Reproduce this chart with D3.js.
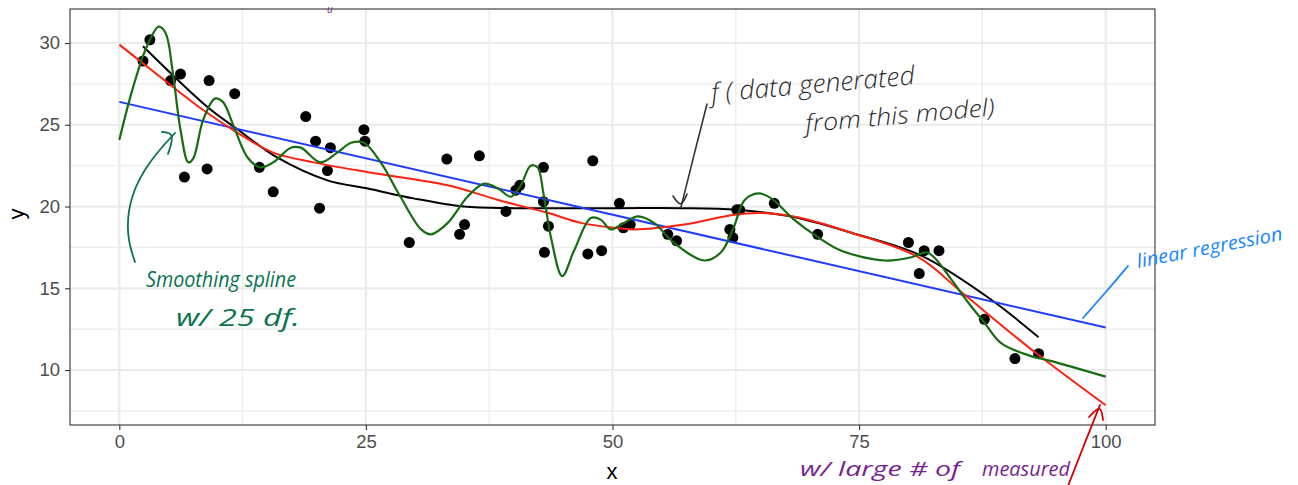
<!DOCTYPE html>
<html>
<head>
<meta charset="utf-8">
<script src="https://cdn.jsdelivr.net/npm/d3@7"></script>
<style>
  body { margin: 0; background: #fff; }
  svg { display: block; }
  .tick text { font-family: "Liberation Sans", Arial, sans-serif; }
</style>
</head>
<body>
<script>
// data
const pointsX = [2.4, 3.1, 5.2, 6.2, 6.6, 8.9, 9.1, 11.7, 14.2, 15.6, 18.9, 19.9, 20.3, 21.1, 21.4,
  24.8, 24.9, 29.4, 33.2, 34.5, 35.0, 36.5, 39.2, 40.2, 40.6, 43.0, 43.0, 43.5, 43.1, 47.5, 48.0,
  48.9, 50.7, 51.1, 51.8, 55.6, 56.5, 61.9, 62.2, 62.6, 62.9, 66.4, 70.8, 80.0, 81.1, 81.6, 83.1,
  87.7, 90.8, 93.2];
const pointsY = [28.9, 30.2, 27.7, 28.1, 21.8, 22.3, 27.7, 26.9, 22.4, 20.9, 25.5, 24.0, 19.9, 22.2, 23.6,
  24.7, 24.0, 17.8, 22.9, 18.3, 18.9, 23.1, 19.7, 21.0, 21.3, 22.4, 20.3, 18.8, 17.2, 17.1, 22.8,
  17.3, 20.2, 18.7, 18.9, 18.3, 17.9, 18.6, 18.1, 19.8, 19.8, 20.2, 18.3, 17.8, 15.9, 17.3, 17.3,
  13.1, 10.7, 11.0];

// true f (black)
const trueX = [2.4, 8.9, 11.8, 16.0, 21.1, 25.2, 29.8, 34.9, 40.0, 50.7, 57.0, 62.6, 68.0, 74.2, 81.3, 88.4, 93.2];
const trueY = [29.8, 26.1, 24.8, 23.0, 21.6, 21.1, 20.5, 20.0, 19.9, 19.9, 19.9, 19.8, 19.4, 18.4, 17.0, 14.3, 12.0];

// red smoother
const redX = [0, 4.0, 8.5, 12.0, 15.6, 19.7, 25.2, 33.3, 38.4, 43.5, 46.8, 50.2, 52.2, 57.3, 62.3, 65.1, 69.1, 74.2, 81.0, 85.7, 92.8, 100];
const redY = [29.9, 28.0, 25.9, 24.5, 23.3, 22.7, 22.1, 21.3, 20.4, 19.6, 19.0, 18.7, 18.6, 18.9, 19.5, 19.6, 19.3, 18.4, 16.9, 14.6, 11.1, 7.85];

// linear regression (blue)
const blueX = [0, 100];
const blueY = [26.4, 12.6];

// smoothing spline, 25 df (green)
const greenX = [0, 1.4, 2.8, 4.0, 4.7, 5.4, 6.2, 7.0, 7.5, 8.5, 9.7, 10.5, 11.6, 13.0, 14.3, 15.6, 17.4, 18.4,
  20.4, 22.1, 23.5, 24.8, 26.5, 28.5, 30.6, 31.6, 33.3, 35.3, 37.0, 38.4, 39.7, 40.7, 41.7, 42.4, 43.0,
  43.8, 44.9, 46.1, 47.8, 48.8, 49.8, 50.9, 52.6, 54.2, 56.2, 59.3, 61.0, 62.3, 63.4, 64.8, 66.1, 68.4,
  70.9, 73.2, 77.6, 80.3, 81.8, 82.6, 84.4, 86.1, 87.7, 89.4, 92.2, 94.5, 100];
const greenY = [24.07, 27.3, 29.8, 31.0, 30.6, 28.3, 24.7, 22.7, 22.95, 25.3, 26.6, 26.4, 24.9, 23.0, 22.4, 22.7, 23.6, 23.6,
  22.7, 23.3, 23.9, 23.9, 22.7, 20.6, 18.6, 18.3, 19.0, 20.6, 21.4, 21.1, 20.6, 21.3, 22.5, 22.4, 20.8,
  18.0, 15.75, 17.3, 19.3, 19.2, 18.6, 18.9, 19.4, 19.0, 17.8, 16.7, 17.2, 18.75, 20.4, 20.8, 20.5, 19.2,
  18.1, 17.3, 16.7, 16.9, 17.2, 16.9, 15.5, 14.1, 12.9, 11.65, 10.9, 10.55, 9.6];

const xTicks = [0, 25, 50, 75, 100];
const yTicks = [10, 15, 20, 25, 30];
const xMinor = [12.5, 37.5, 62.5, 87.5];
const yMinor = [7.5, 12.5, 17.5, 22.5, 27.5];

const width = 1298, height = 485;
const panel = { left: 70, right: 1155, top: 9, bottom: 425 };

const svg = d3.select("body").append("svg")
  .attr("width", width)
  .attr("height", height);

const xScale = d3.scaleLinear().domain([-5, 105]).range([panel.left, panel.right]);
const yScale = d3.scaleLinear().domain([6.64, 32.08]).range([panel.bottom, panel.top]);

// grid
const grid = svg.append("g");
grid.selectAll(".minx").data(xMinor).enter().append("line")
  .attr("x1", d => xScale(d)).attr("x2", d => xScale(d))
  .attr("y1", panel.top).attr("y2", panel.bottom)
  .attr("stroke", "#ebebeb").attr("stroke-width", 1.2);
grid.selectAll(".miny").data(yMinor).enter().append("line")
  .attr("y1", d => yScale(d)).attr("y2", d => yScale(d))
  .attr("x1", panel.left).attr("x2", panel.right)
  .attr("stroke", "#ebebeb").attr("stroke-width", 1.2);
grid.selectAll(".majx").data(xTicks).enter().append("line")
  .attr("x1", d => xScale(d)).attr("x2", d => xScale(d))
  .attr("y1", panel.top).attr("y2", panel.bottom)
  .attr("stroke", "#ebebeb").attr("stroke-width", 2.2);
grid.selectAll(".majy").data(yTicks).enter().append("line")
  .attr("y1", d => yScale(d)).attr("y2", d => yScale(d))
  .attr("x1", panel.left).attr("x2", panel.right)
  .attr("stroke", "#ebebeb").attr("stroke-width", 2.2);

// axes
const xAxis = d3.axisBottom(xScale).tickValues(xTicks).tickSize(5).tickPadding(5);
const yAxis = d3.axisLeft(yScale).tickValues(yTicks).tickSize(5).tickPadding(5);

const gx = svg.append("g")
  .attr("transform", "translate(0," + panel.bottom + ")")
  .call(xAxis);
const gy = svg.append("g")
  .attr("transform", "translate(" + panel.left + ",0)")
  .call(yAxis);
[gx, gy].forEach(g => {
  g.select(".domain").remove();
  g.selectAll(".tick line").attr("stroke", "#333").attr("stroke-width", 1.1);
  g.selectAll(".tick text").attr("fill", "#4d4d4d").style("font-size", "18.5px");
});

// panel border
svg.append("rect")
  .attr("x", panel.left).attr("y", panel.top)
  .attr("width", panel.right - panel.left).attr("height", panel.bottom - panel.top)
  .attr("fill", "none").attr("stroke", "#333").attr("stroke-width", 1.1);

// axis titles
svg.append("text")
  .attr("x", 612).attr("y", 479)
  .attr("text-anchor", "middle")
  .style("font-family", "Liberation Sans, Arial, sans-serif")
  .style("font-size", "22px")
  .text("x");
svg.append("text")
  .attr("transform", "translate(24,214) rotate(-90)")
  .attr("text-anchor", "middle")
  .style("font-family", "Liberation Sans, Arial, sans-serif")
  .style("font-size", "22px")
  .text("y");

// curves
const lineGen = d3.line()
  .x(d => xScale(d[0]))
  .y(d => yScale(d[1]))
  .curve(d3.curveCatmullRom.alpha(0.5));

const drawCurve = (xs, ys, color, w) => {
  svg.append("path")
    .datum(xs.map((x, i) => [x, ys[i]]))
    .attr("d", lineGen)
    .attr("fill", "none")
    .attr("stroke", color)
    .attr("stroke-width", w);
};

// points
svg.append("g").selectAll("circle")
  .data(pointsX.map((x, i) => [x, pointsY[i]]))
  .enter().append("circle")
  .attr("cx", d => xScale(d[0]))
  .attr("cy", d => yScale(d[1]))
  .attr("r", 5.5)
  .attr("fill", "#000");

drawCurve(trueX, trueY, "#000", 2);
drawCurve(blueX, blueY, "#1f3cff", 2);
drawCurve(redX, redY, "#ff2010", 2);
drawCurve(greenX, greenY, "#176c12", 2.2);

// handwritten notes
const hand = "'Open Sans', 'DejaVu Sans', sans-serif";
const note = (x, y, txt, color, size, rot, len, weight) => {
  const t = svg.append("text")
    .attr("transform", `translate(${x},${y}) rotate(${rot})`)
    .attr("fill", color)
    .style("font-family", hand)
    .style("font-style", "italic")
    .style("font-weight", weight || "400")
    .style("font-size", size + "px")
    .text(txt);
  if (len) t.attr("textLength", len).attr("lengthAdjust", "spacingAndGlyphs");
};
const stroke = (pts, color, w) => {
  svg.append("path")
    .attr("d", d3.line().curve(d3.curveBasis)(pts))
    .attr("fill", "none")
    .attr("stroke", color)
    .attr("stroke-width", w)
    .attr("stroke-linecap", "round")
    .attr("stroke-linejoin", "round");
};

// f annotation
note(712, 102, "f ( data generated", "#2a2a2a", 26, -5, 204, "300");
note(806, 132, "from this model)", "#2a2a2a", 24, -5, 190, "300");
stroke([[707, 104], [694, 155], [681, 207]], "#333", 1.6);
stroke([[673, 196], [681, 208], [687, 194]], "#333", 1.6);

// linear regression annotation
note(1138, 268, "linear regression", "#1a86ff", 19, -11, 148);
stroke([[1083, 318], [1106, 292], [1128, 266]], "#1a86ff", 1.8);

// smoothing spline annotation
note(146, 287, "Smoothing spline", "#0a7352", 21, 0, 150);
note(176, 326, "w/ 25 df.", "#0a7352", 23, 0, 124);
stroke([[135, 262], [126, 235], [130, 195], [150, 160], [175, 133]], "#0a7352", 1.8);
stroke([[162, 132], [175, 133], [168, 154]], "#0a7352", 1.8);

// purple notes near the picture edges
note(327, 13, "u", "#7a1f8f", 10, 0, 0);
note(800, 476, "w/ large # of", "#7a1f8f", 20, 0, 160);
note(982, 476, "measured", "#7a1f8f", 20, 0, 88);

// red arrow
stroke([[1068, 486], [1084, 445], [1100, 405]], "#d40000", 1.8);
stroke([[1089, 417], [1101, 404], [1103, 420]], "#d40000", 1.8);
</script>
</body>
</html>
